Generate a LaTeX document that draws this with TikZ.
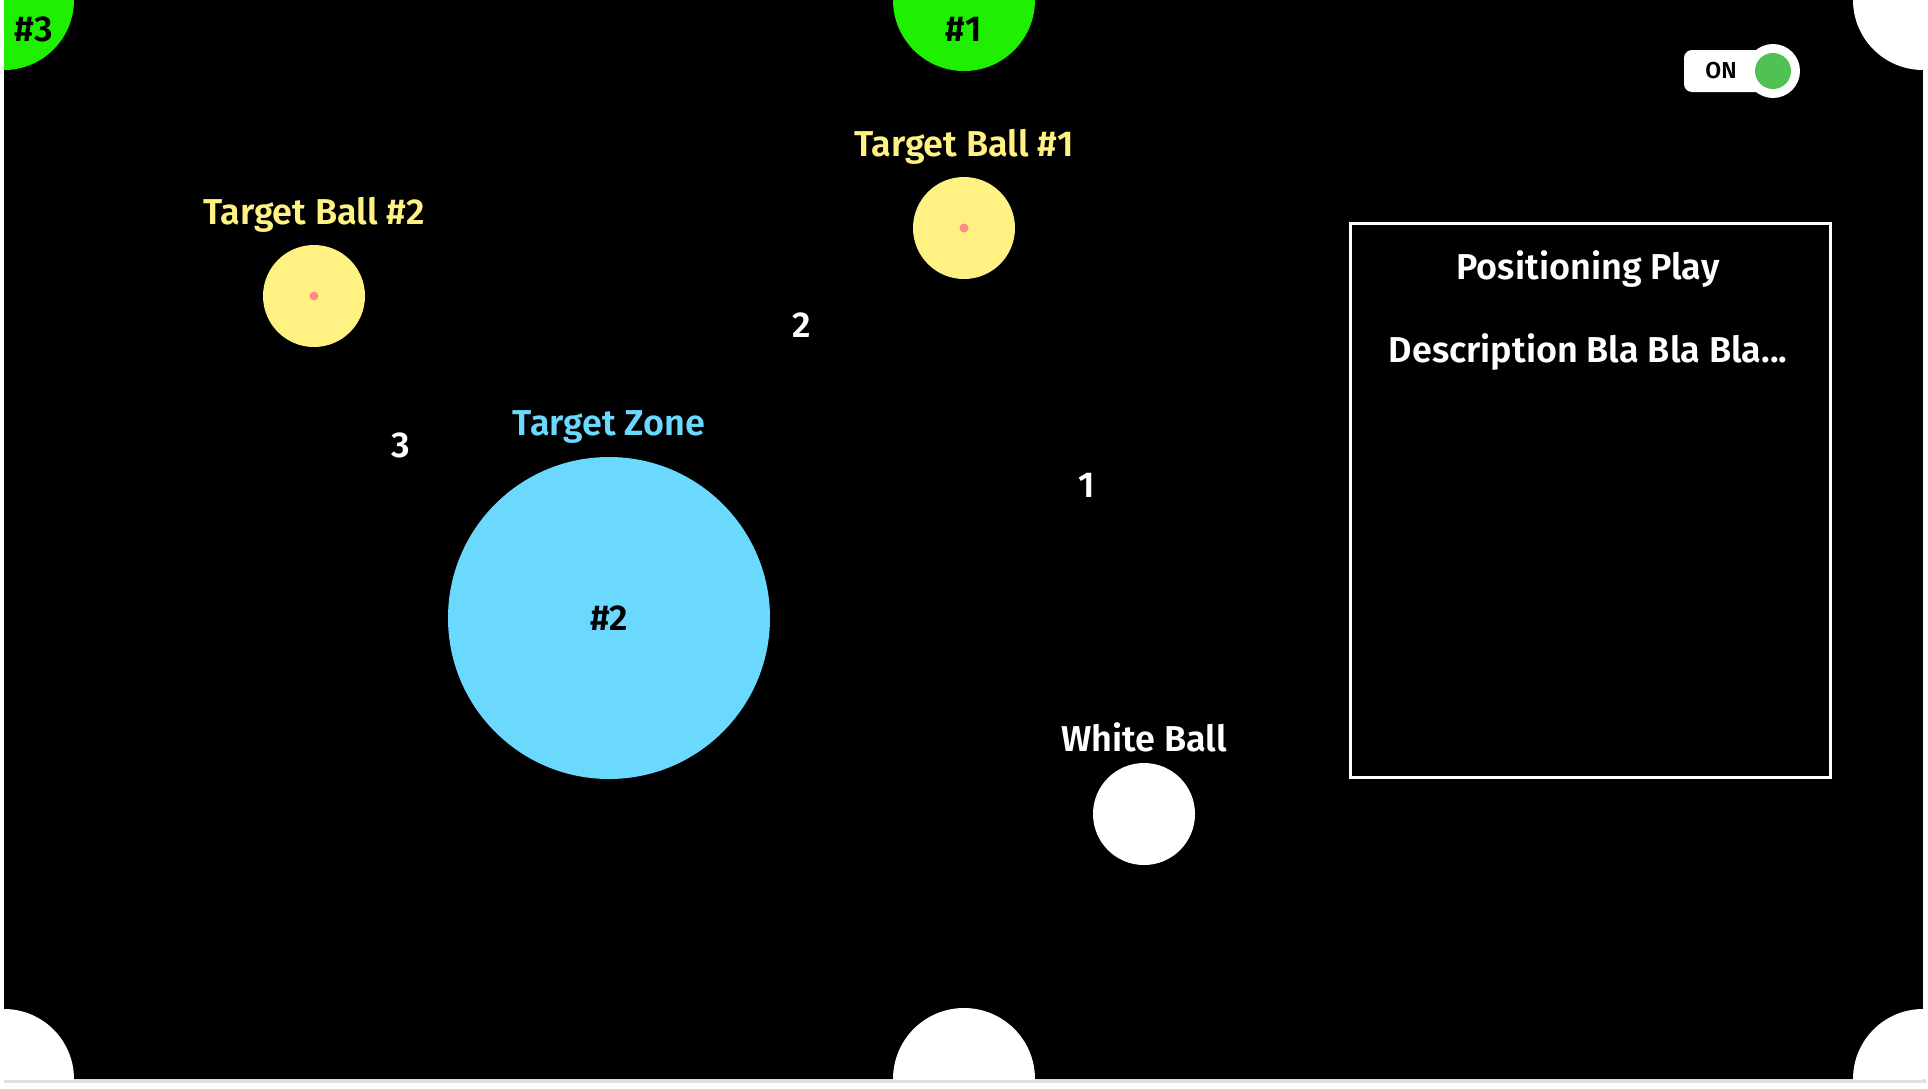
\documentclass[tikz,border=0pt]{standalone}
\usepackage{fontspec}
\setmainfont{Fira Sans}[BoldFont={Fira Sans SemiBold}]
\definecolor{pktgreen}{HTML}{1FEF00}
\definecolor{ballyellow}{HTML}{FFF283}
\definecolor{zonecyan}{HTML}{6BD9FD}
\definecolor{dotpink}{HTML}{FF8A8A}
\definecolor{toggreen}{HTML}{52C154}
\tikzset{
  lbl/.style={font=\bfseries\fontsize{18pt}{21pt}\selectfont, inner sep=0pt, anchor=center},
  ball/.style={circle, inner sep=0pt, minimum size=51pt},
  dot/.style={circle, inner sep=0pt, minimum size=4.5pt, fill=dotpink},
}
\begin{document}
\begin{tikzpicture}[x=0.5pt, y=-0.5pt]
\useasboundingbox (0,0) rectangle (1928,1088);
\fill[white] (0,0) rectangle (1928,1088);
\fill[black!12] (4,1079) rectangle (1926,1083);
\fill[black] (4,0) rectangle (1923,1079);
\begin{scope}
\clip (4,0) rectangle (1923,1079);
\fill[pktgreen] (4,0) circle[radius=35pt];
\fill[pktgreen] (964,0) circle[radius=35.5pt];
\fill[white] (1923,0) circle[radius=35pt];
\fill[white] (4,1079) circle[radius=35pt];
\fill[white] (964,1079) circle[radius=35.5pt];
\fill[white] (1923,1079) circle[radius=35pt];
\end{scope}
\node[lbl, text=black] (p3) at (34,29) {\#3};
\node[lbl, text=black] (p1) at (964,29) {\#1};
% toggle
\fill[white, rounded corners=4pt] (1684,50) rectangle (1773,92);
\node[circle, fill=white, inner sep=0pt, minimum size=27pt] (togw) at (1773,71) {};
\node[circle, fill=toggreen, inner sep=0pt, minimum size=18pt] (togg) at (1773,71) {};
\node[font=\bfseries\fontsize{11.5pt}{12pt}\selectfont, text=black, inner sep=0pt] (on) at (1721,71) {ON};
% target ball 1
\node[lbl, text=ballyellow] (tb1l) at (964,147) {Target Ball \#1};
\node[ball, fill=ballyellow] (tb1) at (964,228) {};
\node[dot] (tb1d) at (tb1.center) {};
% target ball 2
\node[lbl, text=ballyellow] (tb2l) at (314,215) {Target Ball \#2};
\node[ball, fill=ballyellow] (tb2) at (314,296) {};
\node[dot] (tb2d) at (tb2.center) {};
% target zone
\node[lbl, text=zonecyan] (tzl) at (609,427) {Target Zone};
\node[circle, inner sep=0pt, minimum size=161pt, fill=zonecyan, text=black, font=\bfseries\fontsize{18pt}{21pt}\selectfont] (tz) at (609,618) {\#2};
% white ball
\node[lbl, text=white] (wbl) at (1144,737) {White Ball};
\node[ball, fill=white] (wb) at (1144,814) {};
% numbers
\node[lbl, text=white] (n2) at (802,325) {2};
\node[lbl, text=white] (n3) at (401,445) {3};
\node[lbl, text=white] (n1) at (1087,485) {1};
% description box
\node[draw=white, line width=1.5pt, minimum width=240pt, minimum height=277pt, inner sep=0pt, anchor=north west] (box) at (1349,222) {};
\node[lbl, text=white] (title) at (1588,269) {Positioning Play};
\node[lbl, text=white] (desc) at (1588,352) {Description Bla Bla Bla...};
\end{tikzpicture}
\end{document}
